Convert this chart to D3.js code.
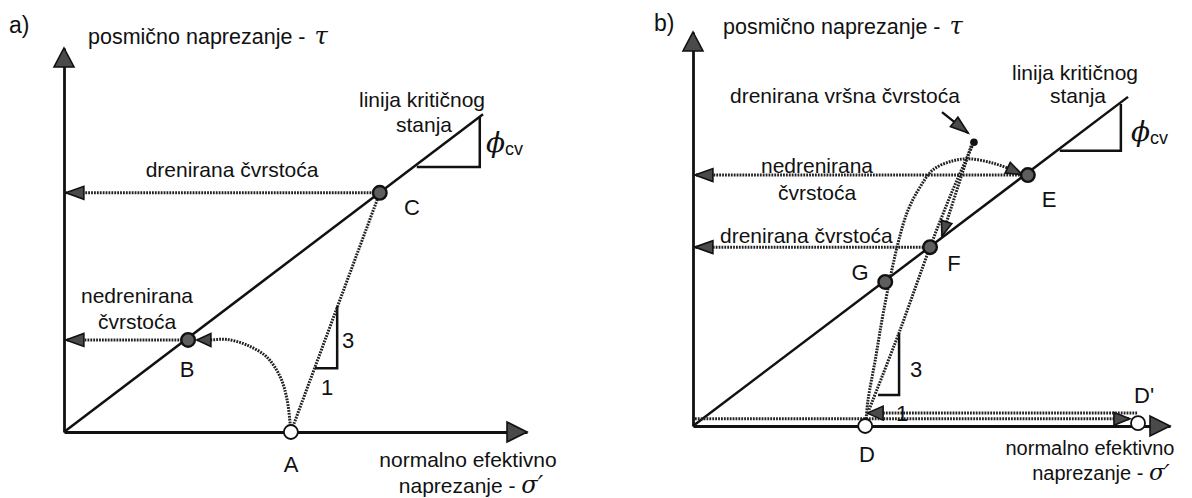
<!DOCTYPE html>
<html>
<head>
<meta charset="utf-8">
<script src="https://cdn.jsdelivr.net/npm/d3@7"></script>
<style>
  body { margin: 0; background: #fff; }
  text { font-family: "Liberation Sans", Arial, sans-serif; fill: #111; }
  .gr { font-family: "DejaVu Serif", "Liberation Serif", serif; font-style: italic; }
</style>
</head>
<body>
<script>
// ---- panel a) values, in (sigma', tau) units ----
const aAxisMax = [10, 8.3];
const aCSL = [[0, 0], [9.05, 6.87]];
const aStates = [['A', 4.90, 0], ['B', 2.68, 1.99], ['C', 6.82, 5.17]];
const aUndrainedPath = [[4.90, 0], [4.82, 0.69], [4.67, 1.19], [4.38, 1.62], [3.95, 1.88], [3.52, 2.0], [3.15, 1.99], [2.87, 1.99]];
const aDrainedPath = [[4.90, 0], [6.82, 5.17]];
const aStrengthLines = [[[6.70, 5.17], [0.04, 5.17]], [[2.55, 1.99], [0.04, 1.99]]];
const aSlope = [[5.90, 2.72], [5.90, 1.38], [5.42, 1.38]];
const aPhi = [[7.62, 5.73], [8.98, 5.73], [8.98, 6.81]];

// ---- panel b) values ----
const bAxisMax = [10, 8.26];
const bCSL = [[0, 0], [9.12, 6.90]];
const bStates = [['D', 3.61, 0, true], ["D'", 9.33, 0.06, true], ['E', 7.02, 5.26], ['F', 4.97, 3.75], ['G', 4.03, 3.02]];
const bPeak = [5.89, 5.95];
const bUndrainedPath = [[3.63, 0.15], [3.67, 0.55], [3.82, 1.38], [4.00, 2.43], [4.30, 3.84], [4.51, 4.53], [4.76, 5.01], [5.03, 5.37], [5.45, 5.56], [5.81, 5.60], [6.29, 5.51], [6.69, 5.37], [6.90, 5.27]];
const bDrainedPath = [[3.69, 0.34], [4.34, 2.01], [4.97, 3.75], [5.43, 4.91], [5.89, 5.95]];
const bSoftening = [[5.83, 5.87], [5.22, 3.98]];
const bStrengthLines = [[[6.85, 5.26], [0.04, 5.26]], [[4.83, 3.75], [0.04, 3.75]]];
const bLoading = [[0.04, 0.15], [9.16, 0.15]];
const bUnloading = [[9.31, 0.27], [3.65, 0.27]];
const bSlope = [[4.32, 1.95], [4.32, 0.65], [3.88, 0.65]];
const bPhi = [[7.69, 5.77], [8.97, 5.77], [8.97, 6.75]];
const bPointer = [[5.22, 6.58], [5.77, 6.14]];

const svg = d3.select('body').append('svg')
  .attr('width', 1192).attr('height', 498);
svg.append('rect').attr('width', 1192).attr('height', 498).attr('fill', '#fff');

const DOT = '1.8,1.1';

function head(g, tip, from, len, wid) {
  const dx = tip[0] - from[0], dy = tip[1] - from[1];
  const d = Math.hypot(dx, dy), ux = dx / d, uy = dy / d;
  const bx = tip[0] - ux * len, by = tip[1] - uy * len;
  const pts = [tip, [bx - uy * wid / 2, by + ux * wid / 2], [bx + uy * wid / 2, by - ux * wid / 2]];
  g.append('polygon')
    .attr('points', pts.map(p => p.join(',')).join(' '))
    .attr('fill', '#4a4a4a').attr('stroke', '#111').attr('stroke-width', 1.6);
}

function panel(g, x, y, o) {
  const line = d3.line().x(d => x(d[0])).y(d => y(d[1]));
  const curve = d3.line().x(d => x(d[0])).y(d => y(d[1])).curve(d3.curveCatmullRom);
  const px = d => [x(d[0]), y(d[1])];

  // axes
  const ax = g.append('g').attr('transform', `translate(0,${y(0)})`)
    .call(d3.axisBottom(x).tickValues([]).tickSizeOuter(0));
  const ay = g.append('g').attr('transform', `translate(${x(0)},0)`)
    .call(d3.axisLeft(y).tickValues([]).tickSizeOuter(0));
  [ax, ay].forEach(a => a.select('.domain').attr('stroke', '#111').attr('stroke-width', 2.8));
  head(g, [x.range()[1], y(0)], [x(0), y(0)], 20, 20);
  head(g, [x(0), y.range()[1]], [x(0), y(0)], 19, 20);

  // critical state line, phi and slope triangles
  [o.csl, o.phi, o.slope].forEach(p =>
    g.append('path').attr('d', line(p)).attr('stroke', '#111').attr('stroke-width', 2.5).attr('fill', 'none'));

  // dotted stress paths
  const dotted = (pts, gen, arrow, len, wid) => {
    g.append('path').attr('d', gen(pts)).attr('fill', 'none')
      .attr('stroke', '#222').attr('stroke-width', 3).attr('stroke-dasharray', DOT);
    if (arrow) head(g, px(pts[pts.length - 1]), px(pts[pts.length - 2]), len || 16, wid || 12);
  };
  o.dotted.forEach(d => dotted(d.pts, d.curve ? curve : line, d.arrow, d.len, d.wid));

  // states
  o.states.forEach(s => {
    g.append('circle').attr('cx', x(s[1])).attr('cy', y(s[2]))
      .attr('r', s[3] ? 7 : 6.8)
      .attr('fill', s[3] ? '#fff' : '#5e5e5e')
      .attr('stroke', '#111').attr('stroke-width', s[3] ? 1.8 : 2.4);
  });
}

function txt(g, x, y, s, size, anchor) {
  return g.append('text').attr('x', x).attr('y', y).attr('font-size', size || 21)
    .attr('text-anchor', anchor || 'middle').text(s);
}
function phi(g, x, y) {
  const t = g.append('text').attr('x', x).attr('y', y).attr('text-anchor', 'start');
  t.append('tspan').attr('class', 'gr').attr('font-size', 28).text('\u03d5');
  t.append('tspan').attr('font-size', 18).attr('dy', 3).text('cv');
}
function sigmaLabel(g, x, y, size) {
  const t = g.append('text').attr('x', x).attr('y', y).attr('font-size', size).attr('text-anchor', 'middle');
  t.append('tspan').text('naprezanje - ');
  t.append('tspan').attr('class', 'gr').attr('font-size', size + 3).text('\u03c3\u2032');
}
function tauLabel(g, x, y) {
  const t = g.append('text').attr('x', x).attr('y', y).attr('font-size', 21.5).attr('text-anchor', 'start');
  t.append('tspan').text('posmi\u010dno naprezanje - ');
  t.append('tspan').attr('class', 'gr').attr('font-size', 24).attr('dx', 3).text('\u03c4');
}

// ---------- panel a ----------
const ga = svg.append('g');
const xa = d3.scaleLinear([0, aAxisMax[0]], [64, 527]);
const ya = d3.scaleLinear([0, aAxisMax[1]], [432, 48]);
panel(ga, xa, ya, {
  csl: aCSL, phi: aPhi, slope: aSlope,
  states: aStates.map(s => [s[0], s[1], s[2], s[0] === 'A']),
  dotted: [
    { pts: aStrengthLines[0], arrow: true, len: 18, wid: 13 },
    { pts: aStrengthLines[1], arrow: true, len: 18, wid: 13 },
    { pts: aUndrainedPath, curve: true, arrow: true, len: 14, wid: 13 },
    { pts: aDrainedPath }
  ]
});
txt(ga, 9, 33, 'a)', 23, 'start');
tauLabel(ga, 88, 44);
txt(ga, 422, 107, 'linija kriti\u010dnog');
txt(ga, 424, 132, 'stanja');
phi(ga, 486, 152);
txt(ga, 232, 177, 'drenirana \u010dvrsto\u0107a');
txt(ga, 137, 303, 'nedrenirana');
txt(ga, 137, 329, '\u010dvrsto\u0107a');
txt(ga, 412, 215, 'C', 22);
txt(ga, 187, 377, 'B', 22);
txt(ga, 291, 472, 'A', 22);
txt(ga, 348, 348, '3', 22);
txt(ga, 327, 395, '1', 22);
txt(ga, 468, 467, 'normalno efektivno');
sigmaLabel(ga, 471, 493, 21);

// ---------- panel b ----------
const gb = svg.append('g');
const xb = d3.scaleLinear([0, bAxisMax[0]], [693, 1170]);
const yb = d3.scaleLinear([0, bAxisMax[1]], [426, 32]);
panel(gb, xb, yb, {
  csl: bCSL, phi: bPhi, slope: bSlope,
  states: bStates,
  dotted: [
    { pts: bStrengthLines[0], arrow: true, len: 18, wid: 13 },
    { pts: bStrengthLines[1], arrow: true, len: 18, wid: 13 },
    { pts: bLoading, arrow: true, len: 16, wid: 13 },
    { pts: bUnloading, arrow: true, len: 16, wid: 14 },
    { pts: bUndrainedPath, curve: true, arrow: true, len: 16, wid: 12 },
    { pts: bDrainedPath, curve: true },
    { pts: bSoftening, arrow: true, len: 15, wid: 11 }
  ]
});
// pointer to the peak strength point
gb.append('path').attr('d', d3.line().x(d => xb(d[0])).y(d => yb(d[1]))(bPointer))
  .attr('stroke', '#111').attr('stroke-width', 2.4);
head(gb, [xb(bPointer[1][0]), yb(bPointer[1][1])], [xb(bPointer[0][0]), yb(bPointer[0][1])], 18, 12);
gb.append('circle').attr('cx', xb(bPeak[0])).attr('cy', yb(bPeak[1])).attr('r', 3.8).attr('fill', '#111');

txt(gb, 654, 31, 'b)', 23, 'start');
tauLabel(gb, 723, 34);
txt(gb, 730, 103, 'drenirana vr\u0161na \u010dvrsto\u0107a', 21, 'start');
txt(gb, 817, 173, 'nedrenirana');
txt(gb, 817, 200, '\u010dvrsto\u0107a');
txt(gb, 720, 243, 'drenirana \u010dvrsto\u0107a', 21, 'start');
txt(gb, 1075, 80, 'linija kriti\u010dnog');
txt(gb, 1078, 103, 'stanja');
phi(gb, 1131, 141);
txt(gb, 1049, 207, 'E', 22);
txt(gb, 954, 271, 'F', 22);
txt(gb, 860, 280, 'G', 22);
txt(gb, 867, 462, 'D', 22);
txt(gb, 1134, 403, "D'", 22, 'start');
txt(gb, 916, 377, '3', 22);
txt(gb, 902, 421, '1', 22);
txt(gb, 1090, 455, 'normalno efektivno', 20);
sigmaLabel(gb, 1101, 480, 20);
</script>
</body>
</html>
